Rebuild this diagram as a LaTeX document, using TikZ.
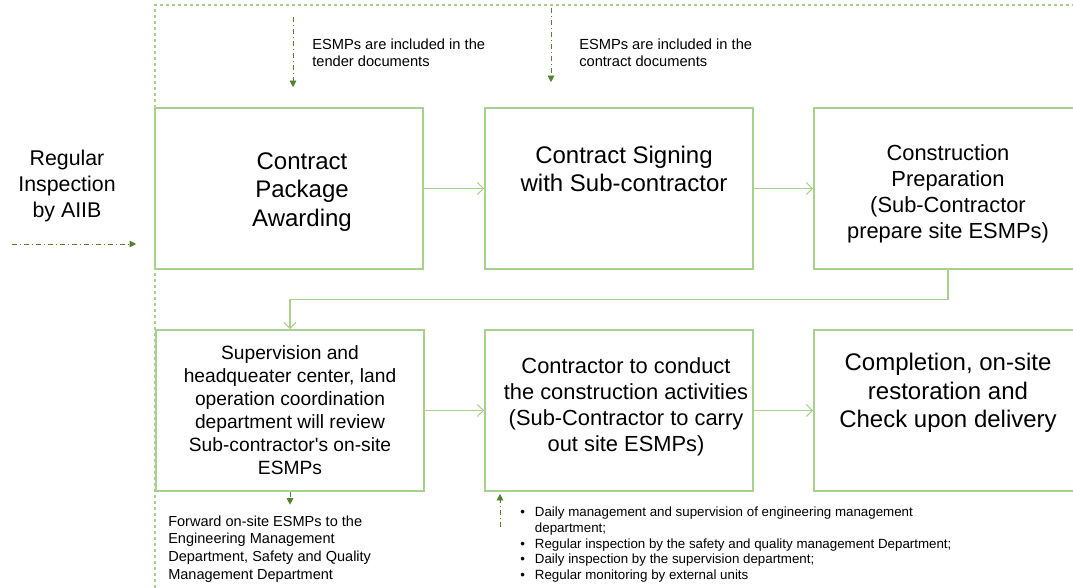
\documentclass[tikz,border=0pt]{standalone}
\usepackage{fontspec}
\setmainfont{Liberation Sans}
\usetikzlibrary{arrows.meta}
\definecolor{boxgreen}{HTML}{A9D18E}
\definecolor{dashgreen}{HTML}{548235}

\begin{document}
\begin{tikzpicture}[x=0.75pt,y=-0.75pt,
  stage/.style={draw=boxgreen,line width=1.2pt,minimum width=201pt,minimum height=120.75pt,inner sep=0pt},
  bigtext/.style={align=center,inner sep=0pt,font=\fontsize{18}{21.5}\selectfont},
  midtext/.style={align=center,inner sep=0pt,font=\fontsize{16.4}{19.5}\selectfont},
  smalltext/.style={align=center,inner sep=0pt,font=\fontsize{14.4}{17.25}\selectfont},
  note/.style={align=left,inner sep=0pt,font=\fontsize{11}{12.75}\selectfont},
  flow/.style={draw=boxgreen,line width=0.9pt,-{Straight Barb[length=4.5pt,width=9pt]}},
  inspect/.style={draw=dashgreen,line width=0.7pt,dash pattern=on 4pt off 2pt on 1pt off 2pt,
    -{Triangle[length=5pt,width=5pt]}},
  frame/.style={draw=boxgreen,line width=0.9pt,dash pattern=on 2.5pt off 2pt}]
  \useasboundingbox (0,0) rectangle (1073,588);

  % dashed frame round the stages
  \draw[frame] (155,588) -- (155,5) -- (1073,5);

  % stages, upper row
  \node[stage] (award) at (289,188.5) {};
  \node[stage] (sign) at (619,188.5) {};
  \node[stage] (prep) at (948,188.5) {};
  % stages, lower row
  \node[stage] (review) at (290,410.5) {};
  \node[stage] (works) at (619,410.5) {};
  \node[stage] (done) at (948,410.5) {};

  % texts in the stages
  \node[bigtext] (award-t) at (302,192) {Contract\\Package\\Awarding};
  \node[bigtext] (sign-t) at (624,169) {Contract Signing\\with Sub-contractor};
  \node[midtext] (prep-t) at (948,194) {Construction\\Preparation\\(Sub-Contractor\\prepare site ESMPs)};
  \node[smalltext] (review-t) at (review.center) {Supervision and\\headqueater center, land\\operation coordination\\department will review\\Sub-contractor\textquotesingle s on-site\\ESMPs};
  \node[midtext] (works-t) at (626,407) {Contractor to conduct\\the construction activities\\(Sub-Contractor to carry\\out site ESMPs)};
  \node[bigtext] (done-t) at (948,393) {Completion, on-site\\restoration and\\Check upon delivery};

  % main flow
  \draw[flow] (award) -- (sign);
  \draw[flow] (sign) -- (prep);
  \draw[flow] (prep.south) -- ++(0,30) -| (review.north);
  \draw[flow] (review) -- (works);
  \draw[flow] (works) -- (done);

  % ESMPs in the documents
  \coordinate (tender-s) at (293,17);
  \draw[inspect,shorten >=15pt] (tender-s) -- (tender-s |- award.north);
  \node[note,anchor=west] (tender-t) at (312,53) {ESMPs are included in the\\tender documents};
  \coordinate (contract-s) at (551,8);
  \draw[inspect,shorten >=18.75pt] (contract-s) -- (contract-s |- sign.north);
  \node[note,anchor=west] (contract-t) at (579,53) {ESMPs are included in the\\contract documents};

  % inspection by the bank
  \node[midtext,font=\fontsize{16}{19.5}\selectfont] (aiib) at (67,186) {Regular\\Inspection\\by AIIB};
  \coordinate (aiib-s) at (12,244);
  \draw[inspect,shorten >=13.5pt] (aiib-s) -- (aiib-s -| award.west);

  % review goes on to the departments
  \node[note,anchor=west,font=\fontsize{10.9}{13.3}\selectfont] (fwd) at (168,549)
    {Forward on-site ESMPs to the\\Engineering Management\\Department, Safety and Quality\\Management Department};
  \draw[inspect,shorten >=8pt] (review.south) -- (review.south |- fwd.north);

  % checks on the works
  \node[note,anchor=west,font=\fontsize{10}{11.8}\selectfont] (checks) at (520,545)
    {\begin{tabular}{@{}l@{\hspace{7.5pt}}l@{}}
      \textbullet & Daily management and supervision of engineering management\\
                  & department;\\
      \textbullet & Regular inspection by the safety and quality management Department;\\
      \textbullet & Daily inspection by the supervision department;\\
      \textbullet & Regular monitoring by external units
    \end{tabular}};
  \coordinate (checks-s) at (500,527);
  \draw[inspect,shorten >=1.5pt] (checks-s) -- (checks-s |- works.south);
\end{tikzpicture}
\end{document}
